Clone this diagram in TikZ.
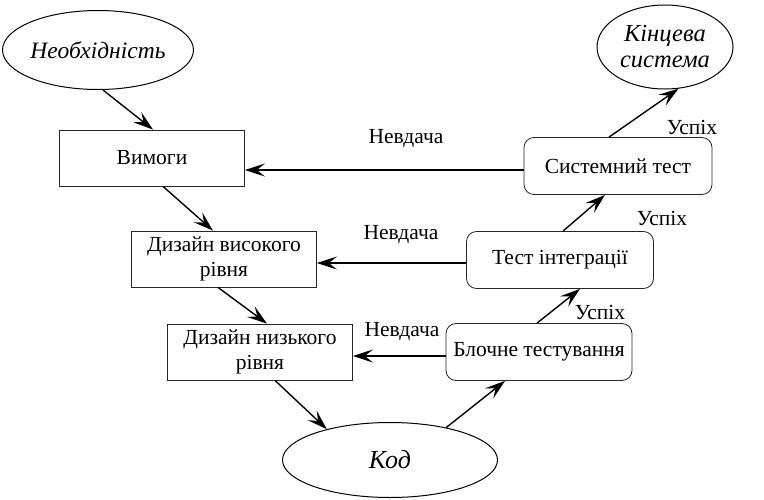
\documentclass[tikz,border=0pt]{standalone}
\usepackage{fontspec}
\setmainfont{Liberation Serif}
\usetikzlibrary{arrows.meta,shapes.geometric,calc}
\begin{document}
\begin{tikzpicture}[x=1pt,y=-1pt,
  every node/.style={font=\fontsize{21.5}{25}\selectfont},
  sqbox/.style={draw=black!85, line width=0.8pt, minimum width=185pt, minimum height=56pt, inner sep=0pt, align=center},
  rbox/.style={sqbox, rounded corners=10pt},
  oval/.style={ellipse, draw, line width=1pt, inner sep=0pt, align=center},
  arr/.style={-{Stealth[length=20pt,width=13pt,inset=8pt]}, line width=1.4pt},
  lbl/.style={inner sep=0pt}]
\useasboundingbox (0,0) rectangle (764,499);
\node[oval, minimum width=183pt, minimum height=79pt, font=\fontsize{23.5}{26}\selectfont\itshape] (nec) at (98,50) {Необхідність};
\node[oval, minimum width=136pt, minimum height=84pt, font=\fontsize{24.5}{26}\selectfont\itshape] (fin) at (665,47) {Кінцева\\система};
\node[oval, minimum width=215pt, minimum height=75pt, font=\fontsize{26}{28}\selectfont\itshape] (code) at (390,460) {Код};
\node[sqbox] (req) at (152,158) {Вимоги};
\node[sqbox] (hld) at (224,259) {Дизайн високого\\рівня};
\node[sqbox] (lld) at (260,352) {Дизайн низького\\рівня};
\node[rbox, minimum width=188pt, minimum height=57pt] (sys) at (618,166) {Системний тест};
\node[rbox, minimum width=187pt, minimum height=57pt] (int) at (560,260) {Тест інтеграції};
\node[rbox, minimum width=186pt, minimum height=57pt] (unit) at (539,352) {Блочне тестування};
\node[lbl] (f1) at (406,139) {Невдача};
\node[lbl] (f2) at (401,235) {Невдача};
\node[lbl] (f3) at (402,332) {Невдача};
\node[lbl] (s1) at (692,127) {Успіх};
\node[lbl] (s2) at (662,218) {Успіх};
\node[lbl] (s3) at (600,312) {Успіх};
\draw[arr] ([xshift=5pt]nec.south) -- ([xshift=1pt]req.north);
\draw[arr] ([xshift=11pt]req.south) -- ([xshift=-11pt]hld.north);
\draw[arr] ([xshift=-6pt]hld.south) -- ([xshift=7pt]lld.north);
\draw[arr] ([xshift=15pt]lld.south) -- (code.154);
\draw[arr] (code.30) -- ([xshift=-34pt]unit.south);
\draw[arr] ([xshift=-2pt]unit.north) -- ([xshift=20pt]int.south);
\draw[arr] ([xshift=3pt]int.north) -- ([xshift=-13pt]sys.south);
\draw[arr] ([xshift=-9pt]sys.north) -- (fin.-72);
\draw[arr] ([yshift=-4pt]sys.west) -- ([yshift=-4pt]sys.west -| req.east);
\draw[arr] ([yshift=-3pt]int.west) -- ([yshift=-3pt]int.west -| hld.east);
\draw[arr] ([yshift=-4pt]unit.west) -- ([yshift=-4pt]unit.west -| lld.east);
\end{tikzpicture}
\end{document}
